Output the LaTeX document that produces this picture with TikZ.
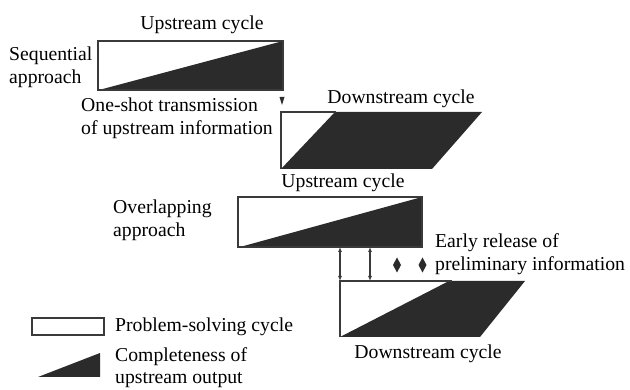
\documentclass[tikz,border=0pt]{standalone}
\usepackage{fontspec}
\setmainfont{Liberation Serif}
\usetikzlibrary{arrows.meta}
\definecolor{ink}{HTML}{2B2B2B}
\definecolor{edge}{HTML}{3A3A3A}
\begin{document}
\begin{tikzpicture}[x=1pt,y=-1pt,
  lbl/.style={inner sep=0pt,font=\fontsize{19.7}{23}\selectfont,align=left},
  outline/.style={draw=edge,line width=1.6pt},
  dark/.style={fill=ink},
  dbl/.style={draw=edge,line width=1.1pt,{Latex[length=5pt,width=4pt]}-{Latex[length=5pt,width=4pt]}},
  diam/.style={fill=ink}]
\useasboundingbox (0,0) rectangle (630,390);

% ---- Sequential approach: upstream cycle
\fill[dark] (99,90) -- (283,41) -- (283,90) -- cycle;
\draw[outline] (98,41) rectangle (283,90);
\node[lbl,anchor=base] (up1) at (202,30) {Upstream cycle};
\node[lbl,anchor=base west] (seq) at (9,84) {Sequential\\approach};

% one-shot transmission marker
\coordinate (tr1) at (282,105);
\fill[ink] (279.5,97) -- (284.5,97) -- (tr1) -- cycle;
\node[lbl,anchor=base west] (oneshot) at (81,135) {One-shot transmission\\of upstream information};

% ---- downstream cycle (sequential)
\fill[dark] (281,169) -- (335,112) -- (482,112) -- (432,169) -- cycle;
\draw[outline] (281,169) -- (281,112) -- (336,112);
\node[lbl,anchor=base] (down1) at (401,104) {Downstream cycle};

% ---- Overlapping approach: upstream cycle
\node[lbl,anchor=base] (up2) at (343,188) {Upstream cycle};
\fill[dark] (240,247) -- (422,197) -- (422,247) -- cycle;
\draw[outline] (238,197) rectangle (422,247);
\node[lbl,anchor=base west] (ovl) at (113,237) {Overlapping\\approach};

% ---- downstream cycle (overlapping)
\fill[dark] (340,337) -- (449,281) -- (525,281) -- (480,337) -- cycle;
\draw[outline] (340,337) -- (340,281) -- (452,281);
\node[lbl,anchor=base] (down2) at (428,359) {Downstream cycle};

% early release arrows
\coordinate (a1t) at (340,247); \coordinate (a1b) at (340,281);
\coordinate (a2t) at (370,247); \coordinate (a2b) at (370,281);
\draw[dbl] (a1t) -- (a1b);
\draw[dbl] (a2t) -- (a2b);

% diamonds
\fill[diam] (397,257.5) -- (401,265) -- (397,272.5) -- (393,265) -- cycle;
\fill[diam] (422.5,257.5) -- (426.5,265) -- (422.5,272.5) -- (418.5,265) -- cycle;
\node[lbl,anchor=base west] (early) at (435,271) {Early release of\\preliminary information};

% ---- legend
\draw[outline,line width=1.4pt] (32,318) rectangle (104,335);
\node[lbl,anchor=base west] (leg1) at (115,332) {Problem-solving cycle};
\fill[dark] (38,377) -- (100,353) -- (100,377) -- cycle;
\node[lbl,anchor=base west,font=\fontsize{19.7}{22}\selectfont] (leg2) at (115,384) {Completeness of\\upstream output};
\end{tikzpicture}
\end{document}
